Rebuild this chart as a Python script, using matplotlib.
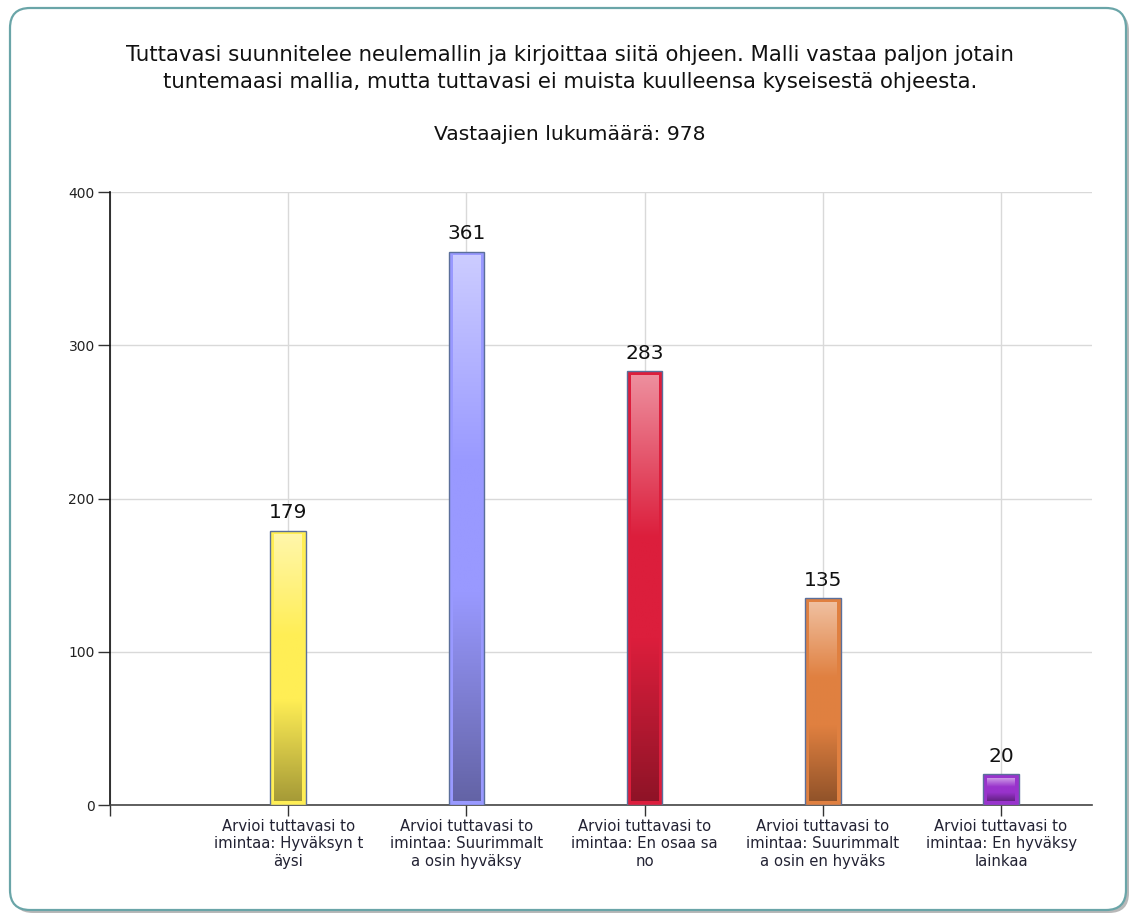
import matplotlib
matplotlib.use("Agg")
import matplotlib.pyplot as plt
import numpy as np
from matplotlib.patches import FancyBboxPatch
from matplotlib.colors import to_rgb

# chart data
title = ("Tuttavasi suunnitelee neulemallin ja kirjoittaa siitä ohjeen. Malli vastaa paljon jotain\n"
         "tuntemaasi mallia, mutta tuttavasi ei muista kuulleensa kyseisestä ohjeesta.")
subtitle = "Vastaajien lukumäärä: 978"
categories = ["Arvioi tuttavasi to\nimintaa: Hyväksyn t\näysi",
              "Arvioi tuttavasi to\nimintaa: Suurimmalt\na osin hyväksy",
              "Arvioi tuttavasi to\nimintaa: En osaa sa\nno",
              "Arvioi tuttavasi to\nimintaa: Suurimmalt\na osin en hyväks",
              "Arvioi tuttavasi to\nimintaa: En hyväksy\nlainkaa"]
values = [179, 361, 283, 135, 20]
colors = ["#FFEE55", "#9999FF", "#DC1E3C", "#E08040", "#9933CC"]
yticks = [0, 100, 200, 300, 400]


def blend(c, target, a):
    c = np.array(to_rgb(c))
    return c * (1 - a) + np.array(target) * a


def gradient(c, n=200):
    light = blend(c, (1, 1, 1), 0.5)
    base = np.array(to_rgb(c))
    dark = blend(c, (0, 0, 0), 0.35)
    t = np.linspace(0, 1, n)
    img = np.zeros((n, 1, 3))
    for i, v in enumerate(t):
        if v < 0.38:
            img[i, 0] = light + (base - light) * (v / 0.38)
        elif v < 0.62:
            img[i, 0] = base
        else:
            img[i, 0] = base + (dark - base) * ((v - 0.62) / 0.38)
    return img


fig = plt.figure(figsize=(11.34, 9.13), dpi=100)

# rounded frame with shadow
shadow = FancyBboxPatch((0.13, 0.0), 11.16, 9.02, boxstyle="round,pad=0,rounding_size=0.2",
                        transform=fig.dpi_scale_trans, facecolor="#b8b8b8", edgecolor="none", zorder=0)
frame = FancyBboxPatch((0.1, 0.03), 11.16, 9.02, boxstyle="round,pad=0,rounding_size=0.2",
                       transform=fig.dpi_scale_trans, facecolor="white", edgecolor="#6aa5a8",
                       linewidth=1.6, zorder=1)
fig.patches.extend([shadow, frame])

fig.text(0.5026, 1 - 68.5 / 913, title, ha="center", va="center", fontsize=15.3,
         linespacing=1.45, color="#111111")
fig.text(0.5026, 1 - 135 / 913, subtitle, ha="center", va="center", fontsize=14.6, color="#111111")

ax = fig.add_axes([110 / 1134, 1 - 805 / 913, (1092 - 110) / 1134, 613 / 913])
ax.set_facecolor("none")
ax.set_zorder(2)

x = np.arange(1, len(values) + 1)
bars = ax.bar(x, values, width=0.2, color=colors, edgecolor="#5b6f9a", linewidth=1.0, zorder=3)

for b, c, v in zip(bars, colors, values):
    bx, bw, bh = b.get_x(), b.get_width(), b.get_height()
    ix = bw * 0.11
    iy = 2.6
    ax.imshow(gradient(c), extent=[bx + ix, bx + bw - ix, iy, bh - iy], aspect="auto",
              interpolation="bilinear", zorder=4)
    ax.annotate(str(v), (bx + bw / 2, bh), xytext=(0, 6), textcoords="offset points",
                ha="center", va="bottom", fontsize=14.5, color="#111111", zorder=5)

ax.set_xlim(0, 5.51)
ax.set_ylim(0, 400)
ax.set_yticks(yticks)
ax.set_yticklabels([str(t) for t in yticks], fontsize=10, color="#222222")
ax.set_xticks(np.arange(0, len(values) + 1))
ax.set_xticklabels([""] + categories, fontsize=10.7, color="#222233", linespacing=1.2)
ax.tick_params(axis="y", length=9, width=1, color="#333333", pad=2)
ax.tick_params(axis="x", length=8, width=1, color="#333333", pad=2)

ax.grid(True, color="#d9d9d9", linewidth=1.0, zorder=0)
ax.set_axisbelow(True)
for s in ["top", "right"]:
    ax.spines[s].set_visible(False)
ax.spines["left"].set_color("#111111")
ax.spines["bottom"].set_color("#444444")
ax.spines["left"].set_linewidth(1.2)
ax.spines["bottom"].set_linewidth(1.2)

fig.savefig("out.png", dpi=100)
